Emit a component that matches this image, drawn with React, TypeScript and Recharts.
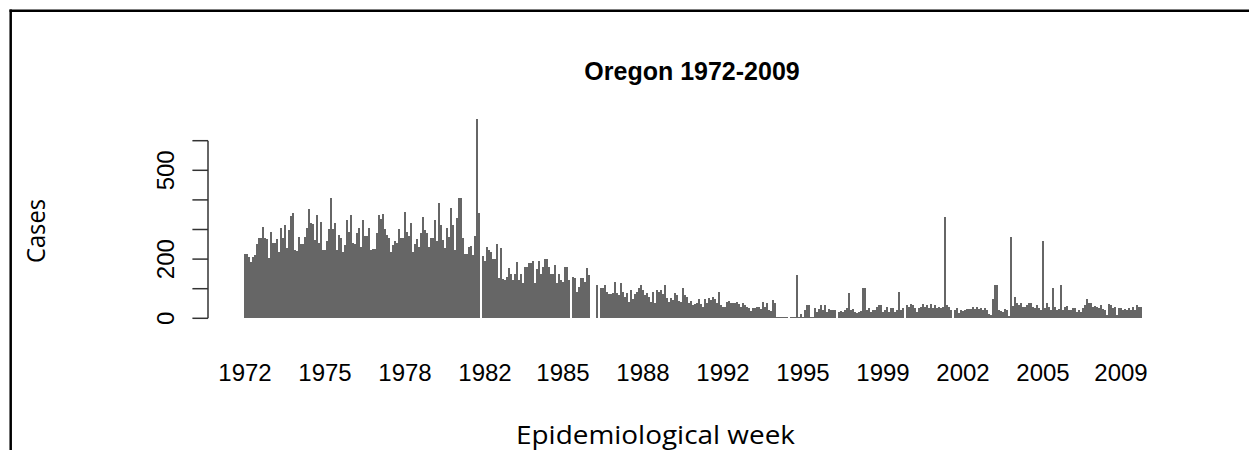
import React from 'react';
import { BarChart, Bar, XAxis, YAxis, ReferenceLine } from 'recharts';

// Reported cases, one bar per ~4.4 epidemiological weeks
const cases1972to1981 = [
  217, 217, 208, 191, 206, 215, 250, 272, 272, 310,
  272, 268, 203, 290, 256, 256, 267, 225, 304, 270,
  315, 236, 300, 346, 355, 231, 229, 276, 250, 250,
  276, 304, 370, 321, 318, 265, 349, 253, 327, 231,
  231, 261, 301, 405, 301, 321, 231, 283, 270, 225,
  248, 332, 293, 349, 253, 250, 289, 304, 242, 332,
  278, 278, 304, 231, 233, 233, 287, 349, 334, 352,
  301, 282, 270, 225, 248, 262, 253, 301, 272, 272,
  360, 293, 278, 321, 225, 251, 267, 242, 289, 343,
  300, 287, 242, 271, 271, 332, 260, 389, 315, 265,
  236, 304, 276, 372, 315, 231, 338, 405, 405, 271,
  217, 217, 242, 245, 214, 278, 672, 355,
];

const cases1982to1993 = [
  0,
  211, 195, 240, 232, 225, 199, 199, 250, 135, 236,
  132, 129, 141, 169, 150, 129, 150, 190, 129, 150,
  118, 175, 175, 186, 186, 193, 118, 165, 193, 150,
  172, 199, 199, 172, 150, 150, 180, 118, 150, 129,
  123, 175, 175, 129, 0, 140, 135, 90, 107, 135,
  135, 124, 169, 146, 0, 0, 0, 113, 0,
  101, 101, 113, 90, 82, 82, 87, 124, 87, 79,
  118, 90, 73, 84, 56, 96, 64, 82, 90, 101,
  113, 96, 79, 84, 71, 56, 90, 53, 96, 90,
  96, 82, 113, 68, 56, 68, 62, 84, 79, 59,
  56, 101, 79, 71, 53, 59, 45, 48, 53, 64,
  48, 39, 64, 51, 68, 62, 71, 64, 51, 90,
  45, 39, 39, 56, 59, 51, 53, 51, 56, 48,
  39, 51, 45, 39, 34, 26, 34, 34, 37, 39,
  30, 56, 39, 53, 28, 26, 62, 51,
];

const cases1994to2009 = [
  5, 4, 4, 4,
  4, 4, 0, 4, 4, 4, 146, 4, 15, 4,
  28, 45, 45, 4, 4, 36, 22, 30, 45, 28,
  45, 22, 30, 28, 28, 28, 0, 21, 24, 21,
  28, 34, 84, 28, 30, 22, 17, 22, 26, 101,
  101, 28, 34, 22, 28, 28, 39, 45, 45, 22,
  28, 37, 22, 34, 34, 22, 28, 90, 28, 34,
  0, 45, 39, 48, 45, 34, 22, 34, 39, 47,
  39, 45, 34, 47, 36, 45, 34, 39, 34, 39,
  343, 45, 39, 28, 0, 28, 34, 19, 28, 25,
  28, 30, 30, 30, 37, 33, 37, 30, 36, 28,
  36, 28, 15, 11, 64, 113, 113, 28, 24, 22,
  30, 28, 8, 274, 40, 73, 51, 45, 51, 39,
  39, 45, 53, 51, 39, 34, 45, 34, 28, 261,
  34, 53, 39, 28, 101, 39, 28, 31, 113, 28,
  39, 42, 28, 28, 36, 34, 22, 28, 22, 34,
  45, 64, 53, 51, 39, 42, 39, 36, 45, 31,
  28, 11, 47, 45, 34, 39, 11, 36, 34, 28,
  31, 28, 34, 28, 39, 28, 45, 39, 39,
];

const weeklyCases = [...cases1972to1981, ...cases1982to1993, ...cases1994to2009];

// bar index at which each year label is printed
const yearTickBars = [0, 40, 80, 120, 159, 199, 239, 279, 319, 359, 399, 438];
const yearTickLabels = ['1972', '1975', '1978', '1982', '1985', '1988', '1992', '1995', '1999', '2002', '2005', '2009'];

const yTicks = [0, 100, 200, 300, 400, 500, 600];
const yLabelledTicks = [0, 200, 500];

const data = weeklyCases.map((v, i) => ({ pos: i + 0.5, cases: v }));

const ARIAL = '"Liberation Sans", Arial, sans-serif';
const WORD = '"Open Sans", "Noto Sans", sans-serif';

const XTick = (props: any) => {
  const { x, index } = props;
  return (
    <text x={x} y={372.5} textAnchor="middle" fontFamily={ARIAL} fontSize={24} fill="#000">
      {yearTickLabels[index]}
    </text>
  );
};

const YTick = (props: any) => {
  const { x, y, payload } = props;
  if (!yLabelledTicks.includes(payload.value)) return <g />;
  const tx = x - 16;
  return (
    <text
      x={tx}
      y={y}
      transform={`rotate(-90 ${tx} ${y})`}
      textAnchor="middle"
      fontFamily={ARIAL}
      fontSize={24}
      fill="#000"
    >
      {payload.value}
    </text>
  );
};

const SolidBar = (props: any) => {
  const { x, y, width, height, fill } = props;
  if (!height || height <= 0) return <g />;
  return (
    <rect
      x={x - 0.25}
      y={y}
      width={width + 0.5}
      height={Math.max(height, 1)}
      fill={fill}
      shapeRendering="crispEdges"
    />
  );
};

export default function App() {
  const W = 1249;
  const H = 442;
  return (
    <div style={{ position: 'relative', width: W, height: H, background: '#fff' }}>
      <BarChart
        width={W}
        height={H}
        data={data}
        margin={{ top: 103.1, right: 115, bottom: 71.7, left: 140 }}
        barCategoryGap={0}
        barGap={0}
      >
        <XAxis
          type="number"
          dataKey="pos"
          domain={[-18, weeklyCases.length]}
          ticks={yearTickBars.map((b) => b + 0.5)}
          interval={0}
          axisLine={false}
          tickLine={false}
          height={60}
          tick={<XTick />}
        />
        <YAxis
          type="number"
          domain={[0, 700]}
          ticks={yTicks}
          interval={0}
          width={60}
          axisLine={false}
          tickSize={15.6}
          tickLine={{ stroke: '#333', strokeWidth: 1.5 }}
          tick={<YTick />}
        />
        <ReferenceLine
          segment={[{ x: -18, y: 0 }, { x: -18, y: 600 }]}
          stroke="#333"
          strokeWidth={1.5}
          ifOverflow="visible"
        />
        <Bar dataKey="cases" fill="#666666" barSize={2} isAnimationActive={false} shape={<SolidBar />} />
      </BarChart>
      <svg
        width={W}
        height={H}
        style={{ position: 'absolute', left: 0, top: 0, pointerEvents: 'none' }}
      >
        <line x1={1.5} y1={2.7} x2={W} y2={2.7} stroke="#000" strokeWidth={2.5} />
        <line x1={2.7} y1={1.5} x2={2.7} y2={H} stroke="#000" strokeWidth={2.5} />
        <text x={684} y={72} textAnchor="middle" fontFamily={ARIAL} fontWeight="bold" fontSize={25} fill="#000">
          Oregon 1972-2009
        </text>
        <text
          x={37}
          y={223}
          transform="rotate(-90 37 223)"
          textAnchor="middle"
          fontFamily={WORD}
          fontSize={26}
          textLength={64}
          lengthAdjust="spacingAndGlyphs"
          fill="#000"
        >
          Cases
        </text>
        <text
          x={647.5}
          y={435.5}
          textAnchor="middle"
          fontFamily={WORD}
          fontSize={26}
          textLength={279}
          lengthAdjust="spacingAndGlyphs"
          fill="#000"
        >
          Epidemiological week
        </text>
      </svg>
    </div>
  );
}
